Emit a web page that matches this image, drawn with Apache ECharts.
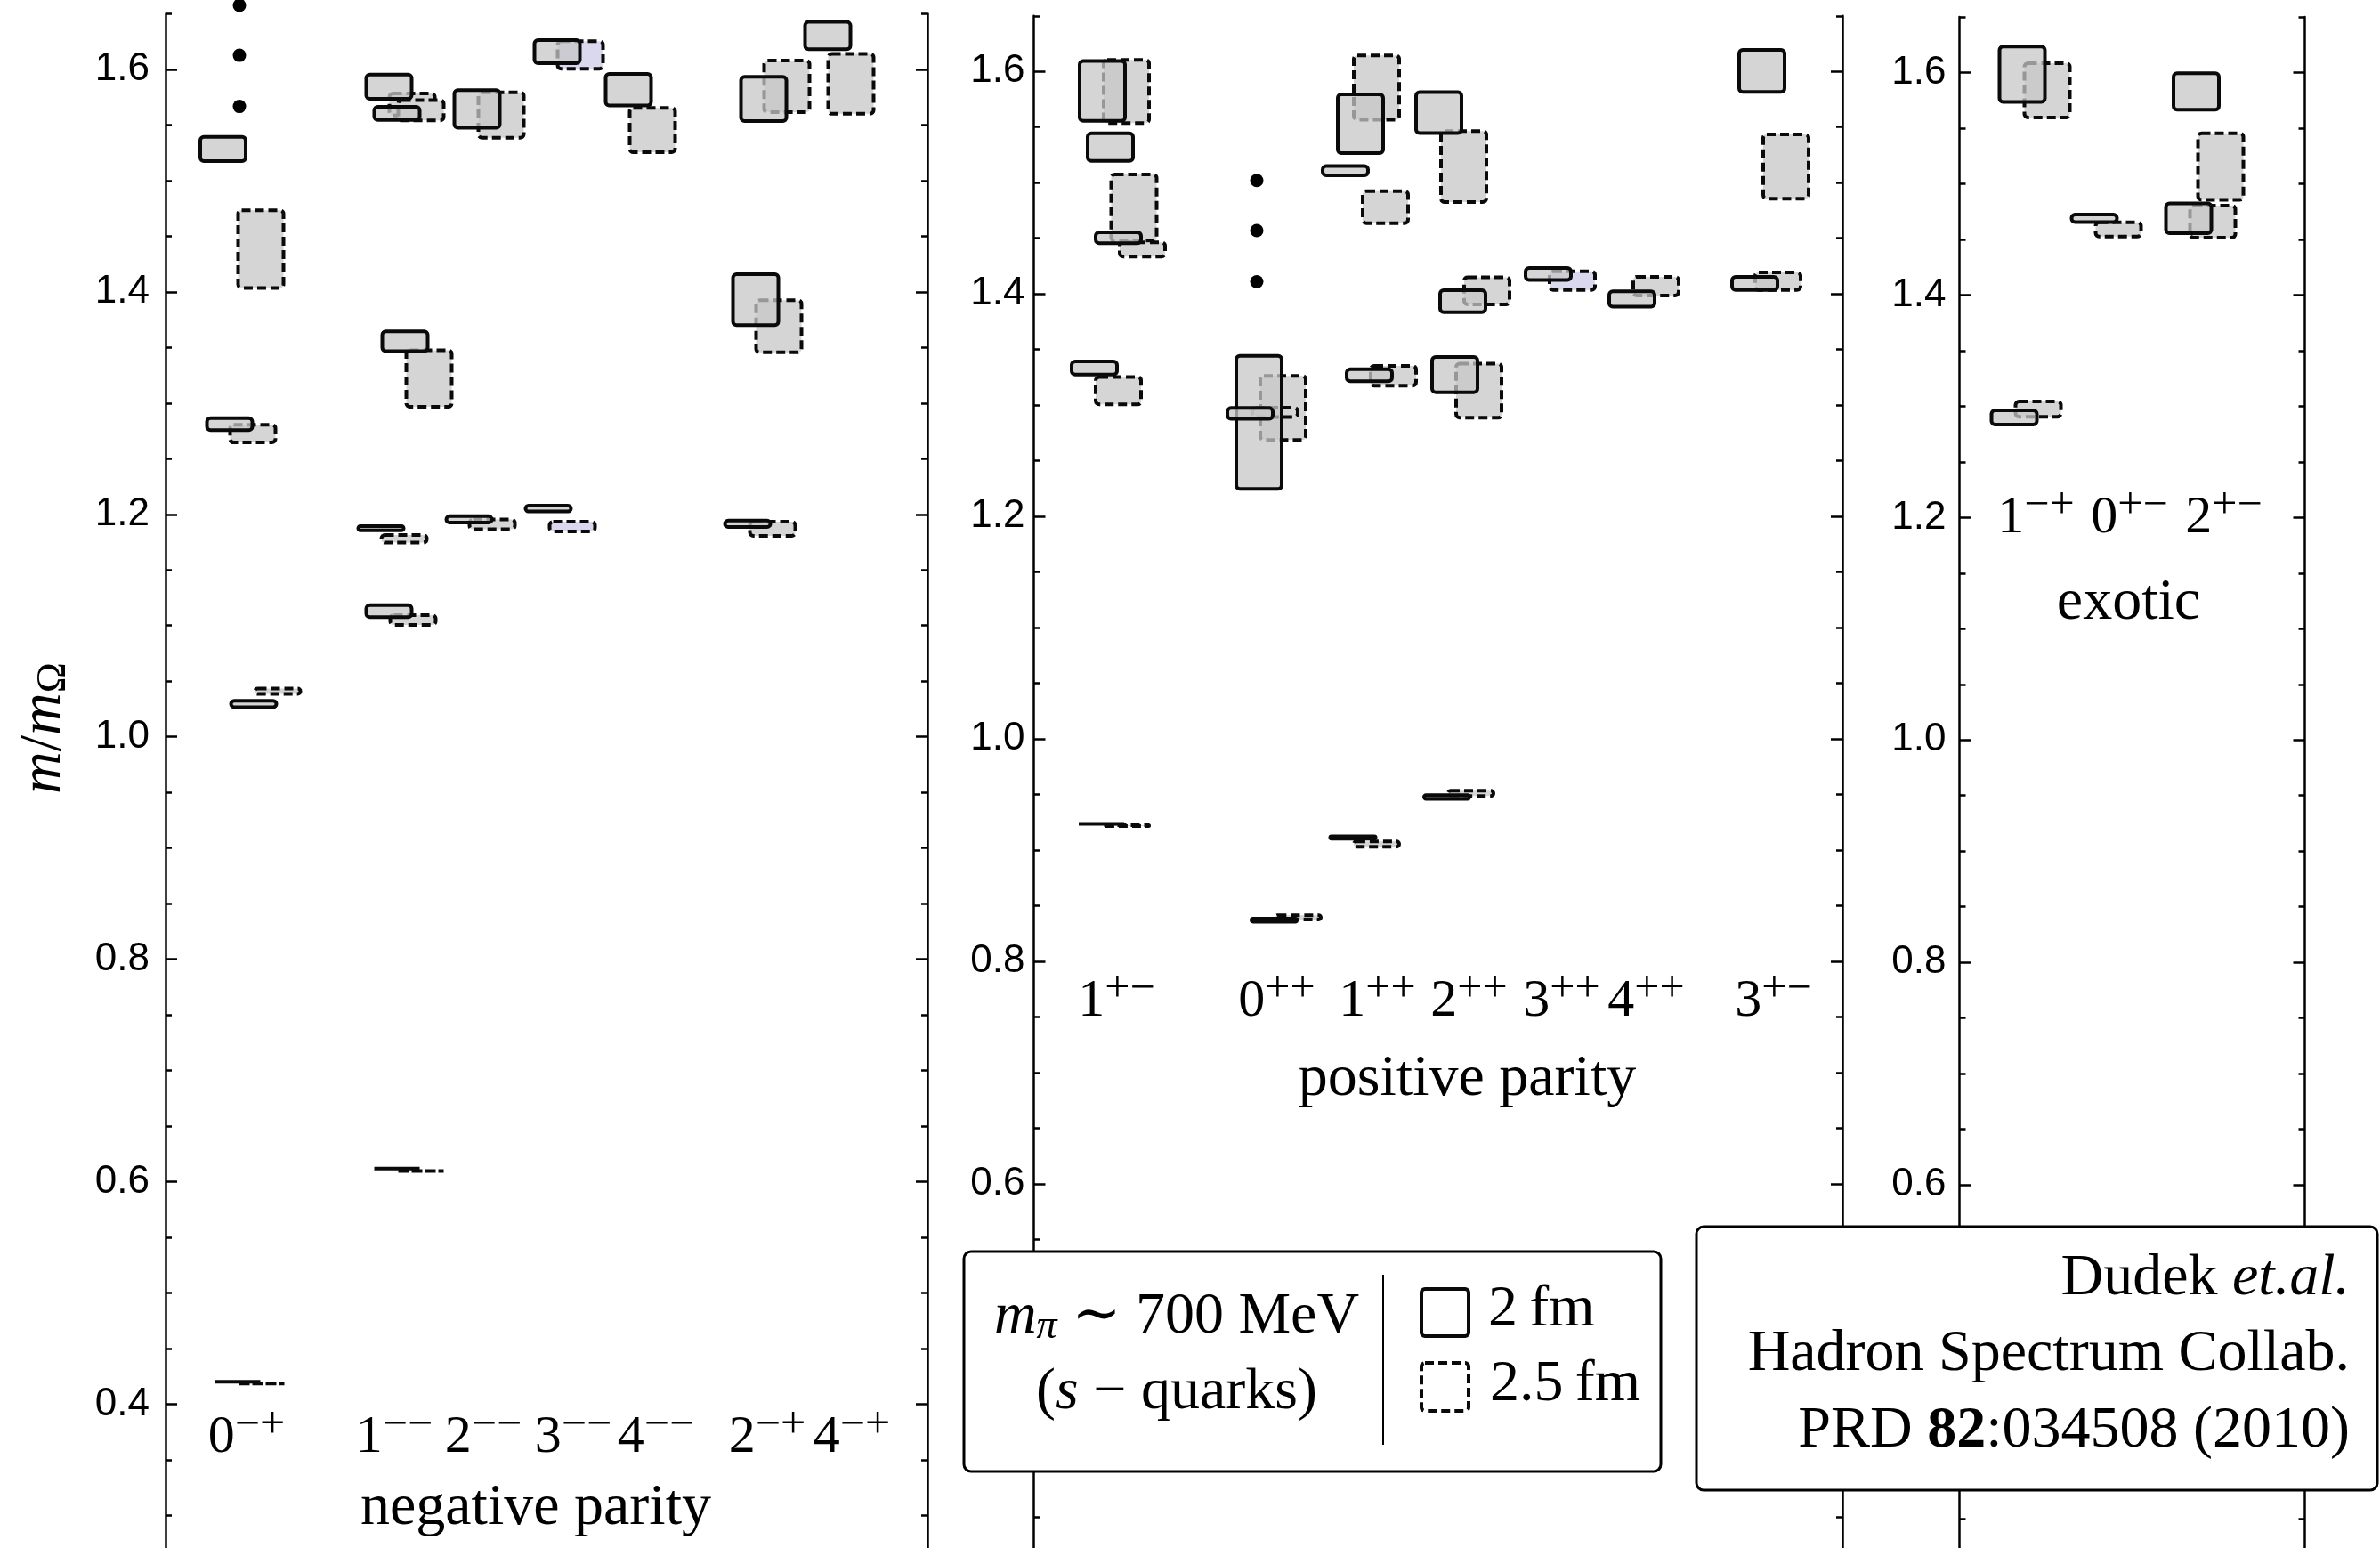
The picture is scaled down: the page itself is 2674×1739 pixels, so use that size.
<!DOCTYPE html>
<html>
<head>
<meta charset="utf-8">
<script src="https://cdn.jsdelivr.net/npm/echarts@6.0.0/dist/echarts.min.js"></script>
<style>
  html, body { margin: 0; padding: 0; background: #fff; }
  #chart { width: 2674px; height: 1739px; }
</style>
</head>
<body>
<div id="chart"></div>
<script>
const SERIF = '"Liberation Serif", "DejaVu Serif", serif';
const SANS = '"Liberation Sans", Arial, sans-serif';

// y axis
const yMin = 0.2, yMax = 1.65;
const majorTicks = [0.4, 0.6, 0.8, 1.0, 1.2, 1.4, 1.6];

// boxes: [channel, x position, low, high]
const negative2fm = [
  ['0-+', 0.645, 1.516, 1.541], ['0-+', 0.72, 1.274, 1.288], ['0-+', 0.99, 1.025, 1.034], ['0-+', 0.81, 0.4200, 0.4201],
  ['1--', 2.51, 1.572, 1.597], ['1--', 2.60, 1.553, 1.568], ['1--', 2.69, 1.345, 1.366], ['1--', 2.42, 1.184, 1.191],
  ['1--', 2.51, 1.106, 1.120], ['1--', 2.60, 0.6117, 0.6118],
  ['2--', 3.50, 1.546, 1.583], ['2--', 3.41, 1.191, 1.200],
  ['3--', 4.40, 1.604, 1.628], ['3--', 4.30, 1.201, 1.2095],
  ['4--', 5.20, 1.566, 1.5975],
  ['2-+', 6.72, 1.552, 1.595], ['2-+', 6.63, 1.3685, 1.4176], ['2-+', 6.54, 1.187, 1.196],
  ['4-+', 7.44, 1.6165, 1.6443],
];
const negative25fm = [
  ['0-+', 1.07, 1.402, 1.475], ['0-+', 0.98, 1.263, 1.282], ['0-+', 1.26, 1.037, 1.045], ['0-+', 1.08, 0.4184, 0.4185],
  ['1--', 2.77, 1.557, 1.580], ['1--', 2.87, 1.5525, 1.574], ['1--', 2.96, 1.295, 1.349], ['1--', 2.68, 1.173, 1.183],
  ['1--', 2.78, 1.099, 1.111], ['1--', 2.87, 0.6095, 0.6096],
  ['2--', 3.77, 1.537, 1.581], ['2--', 3.67, 1.185, 1.197],
  ['3--', 4.66, 1.599, 1.627], ['3--', 4.57, 1.183, 1.195],
  ['4--', 5.47, 1.524, 1.567],
  ['2-+', 6.98, 1.560, 1.6095], ['2-+', 6.89, 1.344, 1.394], ['2-+', 6.82, 1.179, 1.195],
  ['4-+', 7.70, 1.5585, 1.6155],
];
const positive2fm = [
  ['1+-', 0.77, 1.554, 1.611], ['1+-', 0.86, 1.518, 1.546], ['1+-', 0.95, 1.444, 1.457], ['1+-', 0.68, 1.326, 1.341],
  ['1+-', 0.76, 0.922, 0.925],
  ['0++', 2.53, 1.223, 1.346], ['0++', 2.43, 1.286, 1.299], ['0++', 2.70, 0.834, 0.840],
  ['1++', 3.67, 1.525, 1.581], ['1++', 3.50, 1.505, 1.5165], ['1++', 3.77, 1.320, 1.334], ['1++', 3.585, 0.9085, 0.914],
  ['2++', 4.55, 1.543, 1.583], ['2++', 4.82, 1.382, 1.405], ['2++', 4.73, 1.310, 1.345], ['2++', 4.64, 0.9444, 0.951],
  ['3++', 5.78, 1.411, 1.425],
  ['4++', 6.72, 1.387, 1.404],
  ['3+-', 8.18, 1.580, 1.621], ['3+-', 8.10, 1.402, 1.417],
];
const positive25fm = [
  ['1+-', 1.04, 1.552, 1.612], ['1+-', 1.125, 1.446, 1.509], ['1+-', 1.22, 1.432, 1.448], ['1+-', 0.95, 1.299, 1.327],
  ['1+-', 1.04, 0.920, 0.924],
  ['0++', 2.80, 1.267, 1.328], ['0++', 2.71, 1.2876, 1.2993], ['0++', 2.97, 0.836, 0.843],
  ['1++', 3.85, 1.555, 1.616], ['1++', 3.95, 1.462, 1.494], ['1++', 4.04, 1.316, 1.337], ['1++', 3.85, 0.9014, 0.9093],
  ['2++', 4.83, 1.481, 1.548], ['2++', 5.09, 1.389, 1.4165], ['2++', 5.00, 1.287, 1.339], ['2++', 4.91, 0.947, 0.955],
  ['3++', 6.05, 1.402, 1.422],
  ['4++', 6.99, 1.397, 1.417],
  ['3+-', 8.45, 1.484, 1.545], ['3+-', 8.36, 1.402, 1.421],
];
const exotic2fm = [
  ['1-+', 0.705, 1.572, 1.625], ['1-+', 0.615, 1.282, 1.298],
  ['0+-', 1.515, 1.464, 1.474],
  ['2+-', 2.66, 1.565, 1.601], ['2+-', 2.575, 1.454, 1.484],
];
const exotic25fm = [
  ['1-+', 0.985, 1.558, 1.610], ['1-+', 0.885, 1.289, 1.306],
  ['0+-', 1.785, 1.451, 1.467],
  ['2+-', 2.935, 1.484, 1.547], ['2+-', 2.845, 1.450, 1.482],
];
const lavenderChannels = ['3--', '3++'];

// "more states" dots: [x, value]
const negativeDots = [[0.83, 1.6576], [0.83, 1.6127], [0.83, 1.5667]];
const positiveDots = [[2.505, 1.502], [2.505, 1.457], [2.505, 1.411]];

// channel labels: [J, PC, x]
const negativeLabels = [['0', '−+', 0.91], ['1', '−−', 2.57], ['2', '−−', 3.57], ['3', '−−', 4.58],
  ['4', '−−', 5.51], ['2', '−+', 6.76], ['4', '−+', 7.71]];
const positiveLabels = [['1', '+−', 0.93], ['0', '++', 2.73], ['1', '++', 3.86], ['2', '++', 4.89],
  ['3', '++', 5.93], ['4', '++', 6.88], ['3', '+−', 8.31]];
const exoticLabels = [['1', '−+', 0.86], ['0', '+−', 1.91], ['2', '+−', 2.97]];
const labelRows = [0.370, 0.764, 1.1995];
const groupTitles = [['negative parity', 4.16, 0.306], ['positive parity', 4.87, 0.694], ['exotic', 1.90, 1.1227]];

// layout
const panels = [
  { left: 186, width: 856, top: 15.5, margin: 18 },
  { left: 1161.5, width: 908.5, top: 17.8, margin: 10 },
  { left: 2201.5, width: 388, top: 19.1, margin: 15 },
];
const PX_PER_Y = 1249.5;
const BOX_W = 51;
const LW = 4;
const BLACK = '#0a0a0a';

const labelRich = {
  d: { fontFamily: SERIF, fontSize: 60, lineHeight: 66, fill: '#000' },
  s: { fontFamily: SERIF, fontSize: 50, lineHeight: 44, padding: [0, 0, 26, 0], fill: '#000' },
};

function yAxes(g, p) {
  const base = { gridIndex: g, type: 'value', min: yMin, max: yMax, splitLine: { show: false } };
  const tickLine = { color: '#000', width: 2.5 };
  const major = (pos, labels) => Object.assign({}, base, {
    position: pos, interval: 0.2,
    axisLine: { show: true, onZero: false, lineStyle: { color: '#000', width: 2.5 } },
    axisTick: { show: true, inside: true, length: 13, lineStyle: tickLine, customValues: majorTicks },
    axisLabel: labels ? {
      show: true, customValues: majorTicks, margin: p.margin, formatter: (v) => v.toFixed(1),
      fontFamily: SANS, fontSize: 44, color: '#000',
    } : { show: false },
  });
  const minor = (pos) => Object.assign({}, base, {
    position: pos, interval: 0.05,
    axisLine: { show: false, onZero: false },
    axisTick: { show: true, inside: true, length: 7, lineStyle: tickLine },
    axisLabel: { show: false },
  });
  return [major('left', true), minor('left'), major('right', false), minor('right')];
}

function boxSeries(g, rows, dashed) {
  return {
    type: 'custom', xAxisIndex: g, yAxisIndex: g * 4, silent: true, z: dashed ? 3 : 4,
    data: rows.map((r) => [r[1], r[2], r[3]]),
    encode: { x: 0, y: [1, 2] },
    renderItem(params, api) {
      const x = api.value(0);
      const top = api.coord([x, api.value(2)]);
      const bot = api.coord([x, api.value(1)]);
      let y0 = top[1] + LW / 2, y1 = bot[1] - LW / 2;
      if (y1 < y0) y0 = y1 = (y0 + y1) / 2;
      const channel = rows[params.dataIndex][0];
      let fill = 'rgba(199, 199, 199, 0.75)';
      if (dashed) fill = lavenderChannels.includes(channel) ? '#d9d8ee' : '#d5d5d5';
      return {
        type: 'rect',
        shape: { x: top[0] - BOX_W / 2, y: y0, width: BOX_W, height: y1 - y0, r: 4 },
        style: { fill, stroke: BLACK, lineWidth: LW, lineDash: dashed ? [10, 5] : null },
      };
    },
  };
}

function dotSeries(g, dots) {
  return {
    type: 'scatter', xAxisIndex: g, yAxisIndex: g * 4, silent: true, z: 5, clip: false,
    symbolSize: 15, itemStyle: { color: '#000', opacity: 1 }, data: dots,
  };
}

function labelSeries(g, items, yVal) {
  return {
    type: 'custom', xAxisIndex: g, yAxisIndex: g * 4, silent: true, z: 6,
    data: items.map((it) => [it[2], yVal]),
    renderItem(params, api) {
      const it = items[params.dataIndex];
      const p = api.coord([api.value(0), api.value(1)]);
      return {
        type: 'text', x: p[0], y: p[1],
        style: { text: `{d|${it[0]}}{s|${it[1]}}`, rich: labelRich, align: 'center', verticalAlign: 'middle' },
      };
    },
  };
}

function titleSeries(g, t) {
  return {
    type: 'custom', xAxisIndex: g, yAxisIndex: g * 4, silent: true, z: 6,
    data: [[t[1], t[2]]],
    renderItem(params, api) {
      const p = api.coord([api.value(0), api.value(1)]);
      return {
        type: 'text', x: p[0], y: p[1],
        style: { text: t[0], fontFamily: SERIF, fontSize: 66, fill: '#000', align: 'center', verticalAlign: 'middle' },
      };
    },
  };
}

const boxSets = [[negative2fm, negative25fm], [positive2fm, positive25fm], [exotic2fm, exotic25fm]];
const labelSets = [negativeLabels, positiveLabels, exoticLabels];

const series = [];
boxSets.forEach(([solid, dashed], g) => {
  series.push(boxSeries(g, dashed, true), boxSeries(g, solid, false));
  series.push(labelSeries(g, labelSets[g], labelRows[g]), titleSeries(g, groupTitles[g]));
});
series.push(dotSeries(0, negativeDots), dotSeries(1, positiveDots));

const serifText = (text, x, y, extra) => ({
  type: 'text', z: 101, x, y,
  style: Object.assign({ text, fontFamily: SERIF, fontSize: 66, fill: '#000', verticalAlign: 'middle' }, extra),
});
const richBase = {
  n: { fontFamily: SERIF, fontSize: 66, fill: '#000' },
  i: { fontFamily: SERIF, fontSize: 66, fontStyle: 'italic', fill: '#000' },
  b: { fontFamily: SERIF, fontSize: 66, fontWeight: 'bold', fill: '#000' },
  sub: { fontFamily: SERIF, fontSize: 46, fontStyle: 'italic', padding: [22, 0, 0, 0], fill: '#000' },
  subn: { fontFamily: SERIF, fontSize: 46, padding: [22, 0, 0, 0], fill: '#000' },
};

const graphic = [
  {
    type: 'text', x: 50, y: 818, rotation: Math.PI / 2, z: 101,
    style: { text: '{i|m}{n|/}{i|m}{subn|Ω}', rich: richBase, align: 'center', verticalAlign: 'middle' },
  },
  {
    type: 'rect', z: 100, shape: { x: 1083, y: 1406, width: 783, height: 247, r: 8 },
    style: { fill: '#fff', stroke: '#000', lineWidth: 3 },
  },
  serifText('{i|m}{sub|π}{n| ∼ 700 MeV}', 1322, 1480, { rich: richBase, align: 'center' }),
  serifText('{n|(}{i|s}{n| − quarks)}', 1322, 1565, { rich: richBase, align: 'center' }),
  {
    type: 'line', z: 101, shape: { x1: 1554, y1: 1432, x2: 1554, y2: 1623 },
    style: { stroke: '#000', lineWidth: 2 },
  },
  {
    type: 'rect', z: 101, shape: { x: 1597, y: 1448, width: 53, height: 53, r: 4 },
    style: { fill: '#fff', stroke: BLACK, lineWidth: LW },
  },
  {
    type: 'rect', z: 101, shape: { x: 1597, y: 1531, width: 53, height: 54, r: 4 },
    style: { fill: '#fff', stroke: BLACK, lineWidth: LW, lineDash: [10, 5] },
  },
  serifText('2\u2009fm', 1672, 1472, { align: 'left' }),
  serifText('2.5\u2009fm', 1674, 1556, { align: 'left' }),
  {
    type: 'rect', z: 100, shape: { x: 1906, y: 1378, width: 765, height: 296, r: 8 },
    style: { fill: '#fff', stroke: '#000', lineWidth: 3 },
  },
  serifText('{n|Dudek }{i|et.al.}', 2640, 1437, { rich: richBase, align: 'right' }),
  serifText('Hadron Spectrum Collab.', 2640, 1522, { align: 'right' }),
  serifText('{n|PRD }{b|82}{n|:034508 (2010)}', 2640, 1608, { rich: richBase, align: 'right' }),
];

const option = {
  backgroundColor: '#fff',
  animation: false,
  grid: panels.map((p) => ({
    left: p.left, top: p.top, width: p.width, height: (yMax - yMin) * PX_PER_Y,
    containLabel: false, outerBoundsMode: 'none',
  })),
  xAxis: panels.map((p, g) => ({ gridIndex: g, type: 'value', min: 0, max: p.width / 100, show: false })),
  yAxis: panels.flatMap((p, g) => yAxes(g, p)),
  series,
  graphic,
};

const chart = echarts.init(document.getElementById('chart'), null, { renderer: 'canvas' });
chart.setOption(option);
</script>
</body>
</html>
